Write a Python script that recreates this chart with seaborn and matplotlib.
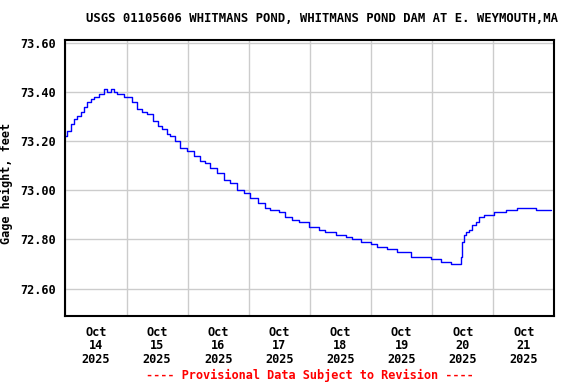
import matplotlib
matplotlib.use("Agg")
import matplotlib.pyplot as plt
import matplotlib.dates as mdates
import seaborn as sns
import pandas as pd
import numpy as np

# Hours after 2025-10-14 00:00 and gage height (feet)
hours = [0.0, 0.75, 2.1, 3.4, 4.7, 6.0, 7.3, 8.6, 10.0, 11.25, 13.2, 15.2, 16.5,
         17.8, 19.1, 20.4, 23.1, 26.3, 28.3, 30.25, 32.2, 34.2, 36.2, 38.1, 39.9,
         41.2, 43.1, 45.1, 47.7, 50.3, 53.0, 54.9, 56.9, 59.5, 62.1, 64.8, 67.4,
         70.0, 72.6, 75.5, 78.5, 80.5, 83.8, 86.4, 89.0, 91.6, 95.6, 99.5, 102.1,
         106.1, 110.0, 112.6, 115.9, 119.8, 122.5, 126.4, 130.3, 135.5, 140.8,
         143.4, 147.3, 151.3, 153.9, 154.6, 155.2, 155.9, 156.5, 157.2, 158.5,
         159.8, 161.1, 162.4, 164.4, 168.3, 172.9, 177.5, 184.1, 184.8, 190.6]
height = [73.22, 73.24, 73.27, 73.29, 73.30, 73.32, 73.34, 73.36, 73.37, 73.38,
          73.39, 73.41, 73.40, 73.41, 73.40, 73.39, 73.38, 73.36, 73.33, 73.32,
          73.31, 73.28, 73.26, 73.25, 73.23, 73.22, 73.20, 73.17, 73.16, 73.14,
          73.12, 73.11, 73.09, 73.07, 73.04, 73.03, 73.00, 72.99, 72.97, 72.95,
          72.93, 72.92, 72.91, 72.89, 72.88, 72.87, 72.85, 72.84, 72.83, 72.82,
          72.81, 72.80, 72.79, 72.78, 72.77, 72.76, 72.75, 72.73, 72.73, 72.72,
          72.71, 72.70, 72.70, 72.70, 72.73, 72.79, 72.82, 72.83, 72.84, 72.86,
          72.87, 72.89, 72.90, 72.91, 72.92, 72.93, 72.93, 72.92, 72.92]
ytick_vals = [72.60, 72.80, 73.00, 73.20, 73.40, 73.60]
day_labels = ["Oct\n14\n2025", "Oct\n15\n2025", "Oct\n16\n2025", "Oct\n17\n2025",
              "Oct\n18\n2025", "Oct\n19\n2025", "Oct\n20\n2025", "Oct\n21\n2025"]

start = pd.Timestamp("2025-10-14 00:00")
df = pd.DataFrame({"time": start + pd.to_timedelta(hours, unit="h"),
                   "height": height})

sns.set_theme(style="white")
plt.rcParams["font.family"] = ["DejaVu Sans Mono"]
plt.rcParams["font.weight"] = "bold"
for k in ["text.color", "axes.labelcolor", "xtick.color", "ytick.color"]:
    plt.rcParams[k] = "black"

fig = plt.figure(figsize=(5.76, 3.84), dpi=100)
ax = fig.add_axes([65.4/576, 1-316/384, (554.4-65.4)/576, (316-39.5)/384])

sns.lineplot(data=df, x="time", y="height", ax=ax, color="#0000ff",
             linewidth=1.0, drawstyle="steps-post")

ax.set_xlim(start, start + pd.Timedelta(days=8))
ax.set_ylim(72.489, 73.613)

fs = 8.6
# y axis
ax.set_yticks(ytick_vals)
ax.set_yticklabels([f"{v:.2f}" for v in ytick_vals], fontsize=fs, fontweight="bold")
ax.tick_params(axis="y", length=0, pad=7)
ax.yaxis.grid(True, color="#cccccc", linewidth=1.0)

# x axis: grid at midnights, labels at noon
midnights = [start + pd.Timedelta(days=i) for i in range(9)]
noons = [start + pd.Timedelta(days=i, hours=12) for i in range(8)]
ax.set_xticks(midnights)
ax.set_xticklabels([""] * len(midnights))
ax.set_xticks(noons, minor=True)
ax.set_xticklabels(day_labels, minor=True, fontsize=fs, fontweight="bold",
                   linespacing=1.05)
ax.tick_params(axis="x", which="both", length=0)
ax.tick_params(axis="x", which="minor", pad=7)
ax.xaxis.grid(True, which="major", color="#cccccc", linewidth=1.0)

ax.set_xlabel("")
ax.set_ylabel("Gage height, feet", fontsize=fs, fontweight="bold")
ax.yaxis.set_label_coords((13 - 65.4) / 489.0, (316 - 183) / 276.5)

for s in ax.spines.values():
    s.set_visible(True)
    s.set_color("black")
    s.set_linewidth(1.5)

cx = (65.4 + 554.4) / 2 / 576
fig.text(322.5 / 576, 1 - 19/384, "USGS 01105606 WHITMANS POND, WHITMANS POND DAM AT E. WEYMOUTH,MA",
         ha="center", va="center", fontsize=8.85, fontweight="bold", color="black")
fig.text(cx, 1 - 375/384, "---- Provisional Data Subject to Revision ----",
         ha="center", va="center", fontsize=fs, fontweight="bold", color="#ff0000")

fig.savefig("out.png", dpi=100, facecolor="white")
